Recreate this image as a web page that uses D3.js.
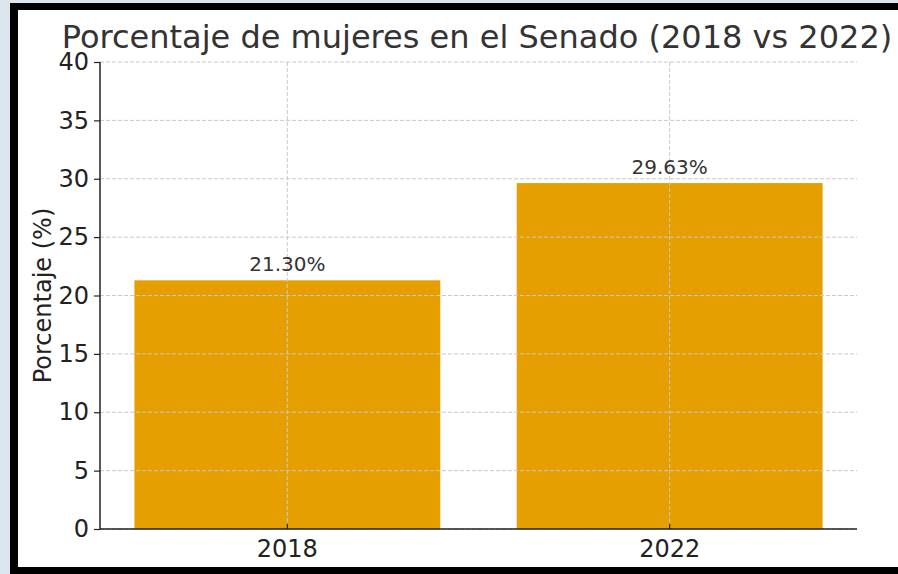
<!DOCTYPE html>
<html>
<head>
<meta charset="utf-8">
<script src="https://cdn.jsdelivr.net/npm/d3@7"></script>
<style>
  html, body { margin: 0; padding: 0; background: #dde6ef; }
  svg { display: block; }
</style>
</head>
<body>
<svg id="chart" width="898" height="574"></svg>
<script>
// data
var years = ['2018', '2022'];
var percentages = [21.30, 29.63];
var yTicks = [0, 5, 10, 15, 20, 25, 30, 35, 40];

var svg = d3.select('#chart');
var font = 'DejaVu Sans, sans-serif';

// frame (black border on top / left / bottom, white panel)
svg.append('rect').attr('x', 10).attr('y', 3).attr('width', 888).attr('height', 571).attr('fill', '#000');
svg.append('rect').attr('x', 18).attr('y', 10).attr('width', 880).attr('height', 557).attr('fill', '#fff');

var margin = {left: 100, right: 857, top: 62, bottom: 529};

var x = d3.scaleBand()
  .domain(years)
  .range([margin.left, margin.right])
  .paddingInner(0.2)
  .paddingOuter(0.09);

var y = d3.scaleLinear()
  .domain([0, 40])
  .range([margin.bottom, margin.top]);

// bars
svg.selectAll('.bar')
  .data(years)
  .enter().append('rect')
  .attr('class', 'bar')
  .attr('x', function(d) { return x(d); })
  .attr('width', x.bandwidth())
  .attr('y', function(d, i) { return y(percentages[i]); })
  .attr('height', function(d, i) { return y(0) - y(percentages[i]); })
  .attr('fill', '#E69F00');

// grid on top of bars
var grid = svg.append('g').attr('class', 'grid');
grid.selectAll('.hgrid')
  .data(yTicks)
  .enter().append('line')
  .attr('x1', margin.left).attr('x2', margin.right)
  .attr('y1', function(d) { return y(d); })
  .attr('y2', function(d) { return y(d); })
  .attr('stroke', '#c8c8c8').attr('stroke-width', 1)
  .attr('stroke-dasharray', '4,2');
grid.selectAll('.vgrid')
  .data(years)
  .enter().append('line')
  .attr('x1', function(d) { return x(d) + x.bandwidth() / 2; })
  .attr('x2', function(d) { return x(d) + x.bandwidth() / 2; })
  .attr('y1', margin.top).attr('y2', margin.bottom)
  .attr('stroke', '#c8c8c8').attr('stroke-width', 1)
  .attr('stroke-dasharray', '4,2');

// value labels
svg.selectAll('.val')
  .data(years)
  .enter().append('text')
  .attr('x', function(d) { return x(d) + x.bandwidth() / 2; })
  .attr('y', function(d, i) { return y(percentages[i]) - 9; })
  .attr('text-anchor', 'middle')
  .attr('font-family', font).attr('font-size', 20)
  .attr('fill', '#333')
  .text(function(d, i) { return percentages[i].toFixed(2) + '%'; });

// axes
var yAxis = svg.append('g')
  .attr('transform', 'translate(' + margin.left + ',0)')
  .call(d3.axisLeft(y).tickValues(yTicks).tickSize(6).tickPadding(5));
var xAxis = svg.append('g')
  .attr('transform', 'translate(0,' + margin.bottom + ')')
  .call(d3.axisBottom(x).tickSize(-5).tickPadding(11).tickSizeOuter(0));

[yAxis, xAxis].forEach(function(ax) {
  ax.select('.domain').attr('stroke', '#222').attr('stroke-width', 1.5);
  ax.selectAll('.tick line').attr('stroke', '#222').attr('stroke-width', 1.2);
  ax.selectAll('.tick text')
    .attr('font-family', font).attr('font-size', 24).attr('fill', '#222');
});
yAxis.select('.domain').attr('d', 'M0,' + margin.top + 'V' + margin.bottom);
xAxis.select('.domain').attr('d', 'M' + margin.left + ',0H' + margin.right);
xAxis.selectAll('.tick text').attr('dy', '0.71em');

// y label
svg.append('text')
  .attr('transform', 'translate(51,' + ((margin.top + margin.bottom) / 2) + ') rotate(-90)')
  .attr('text-anchor', 'middle')
  .attr('font-family', font).attr('font-size', 24)
  .attr('fill', '#222')
  .text('Porcentaje (%)');

// title
svg.append('text')
  .attr('x', 477)
  .attr('y', 48)
  .attr('text-anchor', 'middle')
  .attr('font-family', font).attr('font-size', 32)
  .attr('fill', '#333')
  .text('Porcentaje de mujeres en el Senado (2018 vs 2022)');
</script>
</body>
</html>
